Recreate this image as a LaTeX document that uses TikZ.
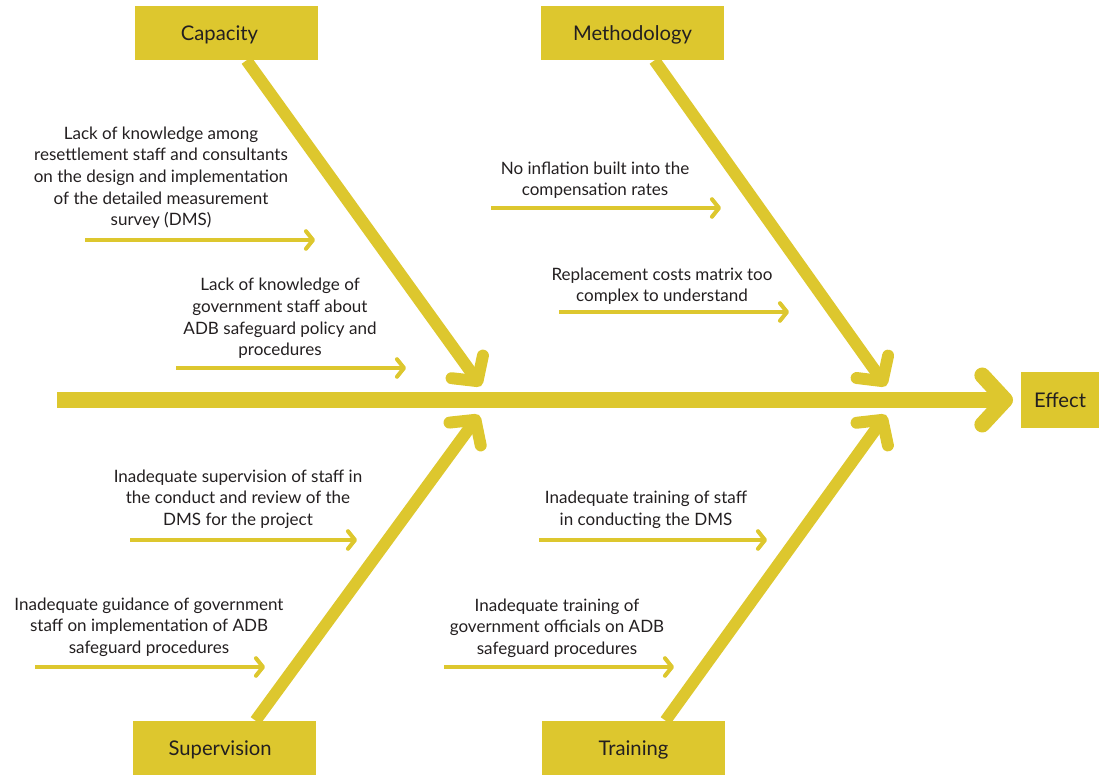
\documentclass[tikz,border=0pt]{standalone}
\usepackage{fontspec}
\setmainfont{Lato}
\usetikzlibrary{arrows.meta,calc}
\definecolor{mustard}{RGB}{221,199,46}
\definecolor{ink}{RGB}{35,31,32}

\begin{document}
\begin{tikzpicture}[x=0.02cm,y=-0.02cm,
    head/.style={fill=mustard,text=ink,inner sep=0pt,minimum width=3.66cm,minimum height=1.08cm,
                 text height=8.3pt,text depth=0.1pt,font=\fontsize{11.5}{13}\selectfont},
    cause/.style={anchor=south,align=center,text=ink,inner sep=0pt,font=\fontsize{9.7}{12.3}\selectfont},
    spine/.style={draw=mustard,line width=9pt,-{Straight Barb[length=13pt,width=28pt,round]}},
    bone/.style={draw=mustard,line width=6.8pt,-{Straight Barb[length=10pt,width=22pt,round]}},
    twig/.style={draw=mustard,line width=2.3pt,-{Straight Barb[length=4pt,width=10pt,round]}}]
  \useasboundingbox (0,0) rectangle (1099,776);

  % category boxes and the effect
  \node[head] (cap) at (226.5,33) {Capacity\kern8pt};
  \node[head] (meth) at (632.5,33) {Methodology};
  \node[head] (sup) at (224.5,748) {Supervision\kern5pt};
  \node[head] (train) at (633.5,748) {Training};
  \node[head,minimum width=1.56cm,minimum height=1.12cm] (eff) at (1060,400) {Effect};

  % spine
  \coordinate (tail) at (57,400);
  \coordinate (tip) at (1013,400);
  \draw[spine] (tail) -- (tip);

  % bones
  \coordinate (capEnd) at (481,386);
  \coordinate (methEnd) at (886,386);
  \coordinate (supEnd) at (479,415);
  \coordinate (trainEnd) at (886,415);
  \draw[bone] ($(cap.south)+(20,0)$) -- (capEnd);
  \draw[bone] ($(meth.south)+(22,0)$) -- (methEnd);
  \draw[bone] ($(sup.north)+(31,0)$) -- (supEnd);
  \draw[bone] ($(train.north)+(32,0)$) -- (trainEnd);

  % causes
  \node[cause] (c1) at (161,229) {Lack of knowledge among\\resettlement staff and consultants\\on the design and implementation\\of the detailed measurement\\survey (DMS)};
  \node[cause] (c2) at (280,359) {Lack of knowledge of\\government staff about\\ADB safeguard policy and\\procedures};
  \node[cause] (m1) at (595,199) {No inflation built into the\\compensation rates};
  \node[cause] (m2) at (662,305) {Replacement costs matrix too\\complex to understand};
  \node[cause] (s1) at (238,529) {Inadequate supervision of staff in\\the conduct and review of the\\DMS for the project};
  \node[cause] (s2) at (149,657) {Inadequate guidance of government\\staff on implementation of ADB\\safeguard procedures};
  \node[cause] (t1) at (646,529) {Inadequate training of staff\\in conducting the DMS};
  \node[cause] (t2) at (557,658) {Inadequate training of\\government officials on ADB\\safeguard procedures};

  % twigs under each cause
  \foreach \n/\xa/\xb/\y in {c1/85/315/240, c2/176/406/368, m1/491/721/208, m2/559/789/312,
                             s1/130/357/540, s2/35/265/667, t1/539/767/540, t2/444/674/667}{
    \coordinate (\n a) at (\xa,\y);
    \coordinate (\n b) at (\xb,\y);
    \draw[twig] (\n a) -- (\n b);
  }
\end{tikzpicture}
\end{document}
